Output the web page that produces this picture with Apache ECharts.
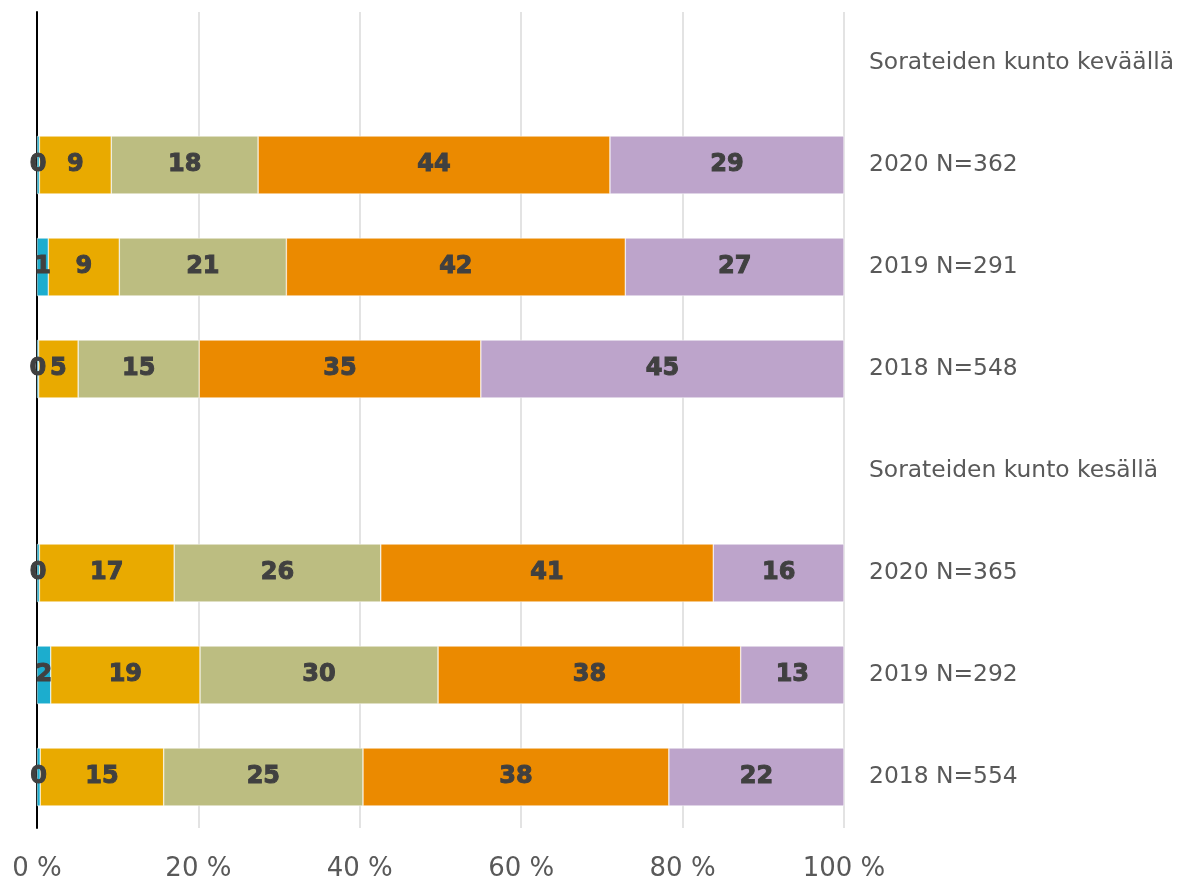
<!DOCTYPE html>
<html>
<head>
<meta charset="utf-8">
<script src="https://cdn.jsdelivr.net/npm/echarts@6/dist/echarts.min.js"></script>
<style>
  html, body { margin: 0; padding: 0; background: #fff; }
  #chart { width: 1177px; height: 883px; }
</style>
</head>
<body>
<div id="chart"></div>
<script>
// rows top to bottom, header rows have no data
const categories = [
  'Sorateiden kunto keväällä',
  '2020 N=362',
  '2019 N=291',
  '2018 N=548',
  'Sorateiden kunto kesällä',
  '2020 N=365',
  '2019 N=292',
  '2018 N=554'
];
const xTicks = [0, 20, 40, 60, 80, 100];

// shares in % per row
const class1 = ['-', 0.3, 1.4, 0.2, '-', 0.3, 1.7, 0.4];
const class2 = ['-', 8.9, 8.8, 4.9, '-', 16.7, 18.5, 15.3];
const class3 = ['-', 18.2, 20.7, 15.0, '-', 25.6, 29.5, 24.7];
const class4 = ['-', 43.6, 42.0, 34.9, '-', 41.2, 37.5, 37.9];
const class5 = ['-', 29.0, 27.1, 45.0, '-', 16.2, 12.8, 21.7];

const seriesData = [class1, class2, class3, class4, class5];
const colors = ['#1CADCE', '#E9AA00', '#BCBD81', '#EB8A00', '#BDA4CB'];

const chart = echarts.init(document.getElementById('chart'));

chart.setOption({
  animation: false,
  textStyle: { fontFamily: 'DejaVu Sans' },
  grid: { left: 37, right: 333, top: 12, bottom: 55 },
  xAxis: {
    type: 'value',
    min: xTicks[0],
    max: xTicks[xTicks.length - 1],
    interval: 20,
    axisLine: { show: false },
    axisTick: { show: false },
    splitLine: { lineStyle: { color: '#e3e3e3', width: 2 } },
    axisLabel: {
      formatter: '{value} %',
      fontSize: 26,
      color: '#595959',
      margin: 28
    }
  },
  yAxis: [
    {
      type: 'category',
      data: categories,
      inverse: true,
      axisLine: { show: true, lineStyle: { color: '#000', width: 2 } },
      axisTick: { show: false },
      axisLabel: { show: false }
    },
    {
      type: 'category',
      data: categories,
      inverse: true,
      position: 'right',
      axisLine: { show: false },
      axisTick: { show: false },
      axisLabel: { fontSize: 23.4, color: '#595959', margin: 25 }
    }
  ],
  series: seriesData.map((d, i) => ({
    name: 'luokka ' + (i + 1),
    type: 'bar',
    stack: 'total',
    barWidth: 58,
    data: d,
    itemStyle: { color: colors[i], borderColor: '#fff', borderWidth: 0.5 },
    label: {
      show: true,
      position: 'inside',
      fontSize: 24,
      fontWeight: 'bold',
      color: '#404040',
      textBorderColor: '#404040',
      textBorderWidth: 1,
      formatter: p => Math.round(p.value)
    }
  }))
});
</script>
</body>
</html>
